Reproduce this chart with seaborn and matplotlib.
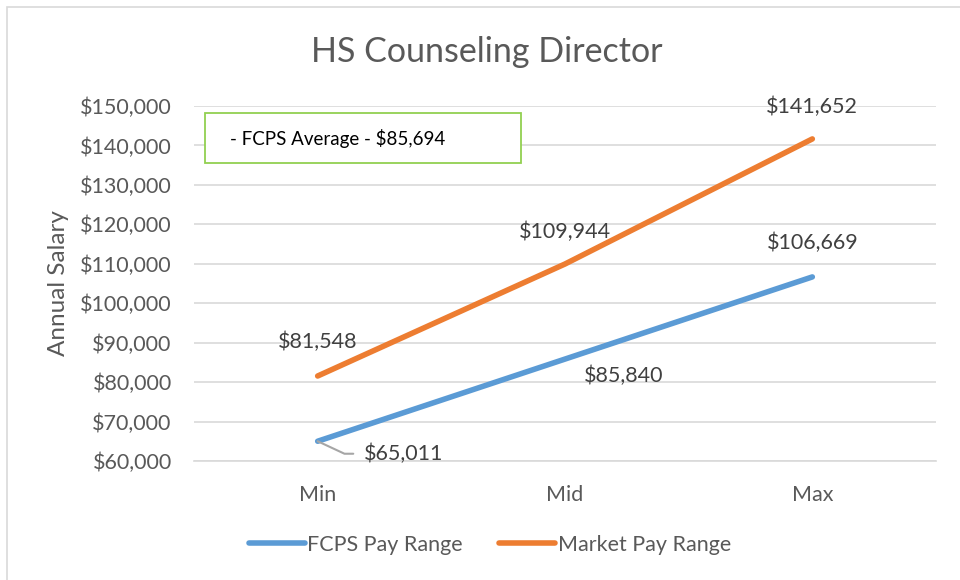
import matplotlib
matplotlib.use("Agg")
import matplotlib.pyplot as plt
import seaborn as sns
import pandas as pd
from matplotlib.patches import Rectangle
from matplotlib.lines import Line2D
from matplotlib.ticker import FuncFormatter

categories = ["Min", "Mid", "Max"]
fcps = [65011, 85840, 106669]
market = [81548, 109944, 141652]
series_names = ["FCPS Pay Range", "Market Pay Range"]
title = "HS Counseling Director"
note = "- FCPS Average - $85,694"

df = pd.DataFrame({
    "cat": categories * 2,
    "x": list(range(len(categories))) * 2,
    "val": fcps + market,
    "series": [series_names[0]] * 3 + [series_names[1]] * 3,
})

sns.set_theme(style="white")
plt.rcParams['font.family'] = ['Lato', 'DejaVu Sans']
gray = "#595959"
lab = "#404040"

fig = plt.figure(figsize=(9.6, 5.8), dpi=100)
ax = fig.add_axes([194/960, 119/580, 742/960, 355/580])

sns.lineplot(data=df, x="x", y="val", hue="series", palette=["#5B9BD5", "#ED7D31"],
             linewidth=4, ax=ax, legend=False, solid_capstyle="round")

ax.set_xlim(-0.5, 2.5)
ax.set_ylim(60000, 150000)
ax.set_yticks(range(60000, 150001, 10000))
ax.yaxis.set_major_formatter(FuncFormatter(lambda v, p: f"${v:,.0f}"))
ax.set_xticks(range(3))
ax.set_xticklabels(categories)
ax.tick_params(axis="y", labelsize=15.5, colors=gray, length=0, pad=16)
ax.tick_params(axis="x", labelsize=15.5, colors=gray, length=0, pad=17)
ax.grid(axis="y", color="#D9D9D9", linewidth=1.2)
for s in ["top", "right", "left"]:
    ax.spines[s].set_visible(False)
ax.spines["bottom"].set_color("#D9D9D9")
ax.spines["bottom"].set_linewidth(1.2)
ax.set_xlabel("")
ax.set_ylabel("Annual Salary", fontsize=17.5, color=gray, labelpad=8)

# data labels
fs = 15.5
def lbl(x, y, dx, dy, ha="center", **kw):
    ax.annotate(f"${y:,}", (x, y), xytext=(dx, dy), textcoords="offset points",
                ha=ha, va="center", fontsize=fs, color=lab, **kw)

lbl(0, market[0], 0, 24.5)
lbl(1, market[1], 0, 23)
lbl(2, market[2], 0, 23)
lbl(2, fcps[2], 0, 24.5)
lbl(1, fcps[1], 42, -12)
lbl(0, fcps[0], 33, -9, ha="left",
    arrowprops=dict(arrowstyle="-", color="#A6A6A6", lw=1.5,
                    connectionstyle="angle,angleA=0,angleB=-25,rad=0",
                    shrinkA=5, shrinkB=0))

# title
fig.text(487/960, 1 - 52/580, title, ha="center", va="center", fontsize=24.5, color=gray)

# note box
fig.patches.append(Rectangle((205/960, 1 - 163/580), 316/960, 50/580, transform=fig.transFigure,
                             fill=True, facecolor="white", edgecolor="#92D050", lw=1.3, zorder=5))
fig.text(230/960, 1 - 138/580, note, ha="left", va="center", fontsize=13.5, color="black", zorder=6)

# legend
handles = [Line2D([0], [0], color="#5B9BD5", lw=4, solid_capstyle="round"),
           Line2D([0], [0], color="#ED7D31", lw=4, solid_capstyle="round")]
fig.legend(handles, series_names, loc="center", bbox_to_anchor=(490/960, 1 - 545/580), ncol=2,
           frameon=False, fontsize=15.5, labelcolor=gray, handlelength=2.6, handletextpad=0.1,
           columnspacing=1.7)

# outer border
fig.patches.append(Rectangle((7/960, -0.01), 1, 1 - 7/580 + 0.01, transform=fig.transFigure,
                             fill=False, edgecolor="#D9D9D9", lw=1.2))

fig.savefig("out.png", dpi=100)
